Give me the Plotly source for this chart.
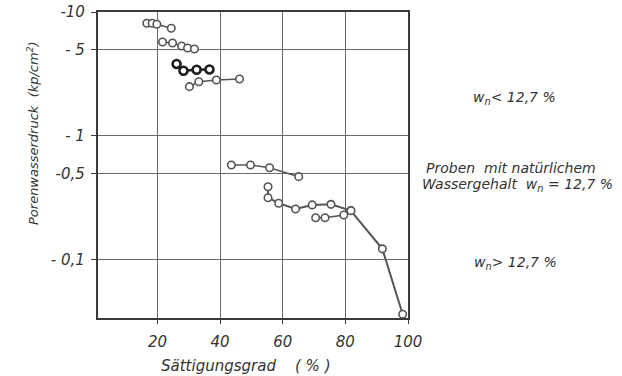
import plotly.graph_objects as go

# ---- data (x: Sättigungsgrad %, y: magnitude of negative pore water pressure kp/cm²)
s1_x = [16.6, 18.3, 19.8, 24.4]
s1_y = [8.11, 8.11, 7.96, 7.39]
s2_x = [21.6, 24.8, 27.7, 29.6, 31.8]
s2_y = [5.73, 5.62, 5.32, 5.12, 5.03]
s3_x = [26.1, 28.3, 32.5, 36.6]          # bold series
s3_y = [3.81, 3.36, 3.42, 3.44]
s4_x = [30.2, 33.2, 38.8, 46.2]
s4_y = [2.50, 2.74, 2.83, 2.88]
s5_x = [43.6, 49.7, 55.8, 65.1]
s5_y = [0.584, 0.584, 0.555, 0.470]
s6_x = [55.3, 55.3, 58.7, 64.1, 69.4, 75.4, 81.7, 91.8, 98.3]
s6_y = [0.390, 0.318, 0.287, 0.258, 0.278, 0.281, 0.250, 0.123, 0.0365]
s7_x = [70.5, 73.5, 79.5, 81.8]
s7_y = [0.219, 0.219, 0.2306, 0.250]

x_ticks = [20, 40, 60, 80, 100]
y_ticks = [10, 5, 1, 0.5, 0.1]
y_ticktext = ["-10", "- 5", "- 1", "-0,5", "- 0,1"]

FONT = "DejaVu Sans"
TXT = "#333333"
GRID = "#6a6a6a"

fig = go.Figure()

def add(xs, ys, color="#555555", lw=1.6, mlw=1.6, size=7.5):
    fig.add_trace(go.Scatter(
        x=xs, y=ys, mode="lines+markers",
        line=dict(color=color, width=lw),
        marker=dict(symbol="circle", size=size, color="white",
                    line=dict(color=color, width=mlw)),
        showlegend=False, hoverinfo="skip"))

add(s1_x, s1_y)
add(s2_x, s2_y)
add(s3_x, s3_y, color="#1e1e1e", lw=2.6, mlw=2.6, size=8)
add(s4_x, s4_y)
add(s5_x, s5_y)
add(s6_x, s6_y, lw=2.0)
add(s7_x, s7_y)

fig.update_xaxes(
    range=[1, 100], tickvals=x_ticks, ticktext=[str(v) for v in x_ticks],
    showgrid=True, gridcolor=GRID, gridwidth=1.3,
    showline=True, linecolor="#3a3a3a", linewidth=2.2, mirror=True,
    ticks="outside", ticklen=4, tickcolor="#3a3a3a", ticklabelstandoff=5,
    tickfont=dict(family=FONT, size=15, color=TXT, style="italic"),
    zeroline=False, automargin=False)
fig.update_yaxes(
    type="log", range=[-1.468, 1], tickvals=y_ticks, ticktext=y_ticktext,
    showgrid=True, gridcolor=GRID, gridwidth=1.3,
    showline=True, linecolor="#3a3a3a", linewidth=2.2, mirror=True,
    ticks="outside", ticklen=5, tickcolor="#3a3a3a", ticklabelstandoff=3,
    tickfont=dict(family=FONT, size=15, color=TXT, style="italic"),
    zeroline=False, automargin=False)

L, R, T, B = 98, 408, 12, 318
W, H = 622, 376

def px(xp):
    return (xp - L) / (R - L)

def py(yp):
    return (B - yp) / (B - T)

def note(text, x, y, size=14, angle=0):
    fig.add_annotation(text=text, x=px(x), y=py(y), xref="paper", yref="paper",
                       xanchor="center", yanchor="middle",
                       showarrow=False, textangle=angle,
                       font=dict(family=FONT, size=size, color=TXT, style="italic"))

note("Porenwasserdruck  (kp/cm<sup>2</sup>)", 33, 133, size=13, angle=-90)
note("Sättigungsgrad    ( % )", 245, 366, size=15)
note("w<sub>n</sub>&lt; 12,7 %", 514, 98)
note("Proben  mit natürlichem", 511, 168)
note("Wassergehalt  w<sub>n</sub> = 12,7 %", 517, 185)
note("w<sub>n</sub>&gt; 12,7 %", 515, 263)

fig.update_layout(
    width=W, height=H,
    margin=dict(l=L, r=W - R, t=T, b=H - B, autoexpand=False),
    paper_bgcolor="white", plot_bgcolor="white",
    font=dict(family=FONT, color=TXT))

fig.write_html("out.html")
